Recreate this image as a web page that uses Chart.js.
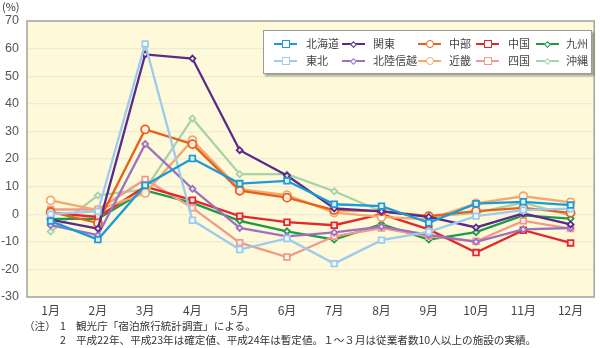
<!DOCTYPE html>
<html><head><meta charset="utf-8">
<script src="https://cdn.jsdelivr.net/npm/chart.js@4/dist/chart.umd.min.js"></script>
<style>
html,body{margin:0;padding:0;background:#fff;}
#wrap{position:relative;width:600px;height:348px;font-family:"Noto Sans CJK JP","Liberation Sans",sans-serif;color:#333;}
canvas{position:absolute;left:0;top:0;}
.t{position:absolute;white-space:nowrap;font-size:10.6px;line-height:12px;color:#333;}
#legend{position:absolute;left:263px;top:30px;width:327px;height:42px;background:#fff;border:1px solid #9a9a9a;box-shadow:2px 2px 2px rgba(0,0,0,0.35);}
.li{position:absolute;height:12px;}
.ls{position:absolute;width:23px;height:2.5px;}
.lm{position:absolute;box-sizing:border-box;background:#fff;}
.lt{position:absolute;font-size:11px;line-height:12px;color:#444;white-space:nowrap;}
</style></head>
<body>
<div id="wrap">
<canvas id="c" width="600" height="348"></canvas>
<div class="t" style="left:2px;top:0px;font-size:11px;">(%)</div>
<div id="legend"></div>
<div class="t" style="left:24px;top:320px;">（注）</div>
<div class="t" style="left:60px;top:320px;">1</div>
<div class="t" style="left:76px;top:320px;">観光庁「宿泊旅行統計調査」による。</div>
<div class="t" style="left:60px;top:334px;">2</div>
<div class="t" style="left:76px;top:334px;">平成22年、平成23年は確定値、平成24年は暫定値。１～３月は従業者数10人以上の施設の実績。</div>
</div>
<script>
const months = ['1月','2月','3月','4月','5月','6月','7月','8月','9月','10月','11月','12月'];
const yTicks = [-30,-20,-10,0,10,20,30,40,50,60,70];
const regionNames = ['北海道','東北','関東','北陸信越','中部','近畿','中国','四国','九州','沖縄'];
const hokkaido = [-2.5, -9.2, 10.5, 20.2, 11.1, 12.1, 3.6, 2.9, -3.1, 3.8, 4.5, 3.3];
const tohoku   = [0.0, 1.0, 61.7, -2.2, -12.8, -8.8, -17.9, -9.4, -6.4, -0.7, 1.5, 2.0];
const kanto    = [-2.0, -5.2, 57.9, 56.4, 23.2, 14.0, 2.1, 1.0, -1.0, -4.8, 0.3, -3.7];
const hokuriku = [-4.0, -7.6, 25.4, 9.2, -5.0, -8.0, -6.6, -4.5, -7.5, -10.0, -5.5, -5.0];
const chubu    = [0.8, -3.2, 30.7, 25.4, 8.5, 6.0, 1.5, 1.1, -0.7, 1.1, 2.3, 0.5];
const kinki    = [5.0, 1.5, 7.7, 26.8, 9.1, 6.9, 0.6, -1.0, -1.9, 3.9, 6.5, 4.3];
const chugoku  = [0.5, -1.0, 10.0, 5.1, -0.7, -2.9, -4.0, 0.0, -5.5, -13.9, -5.8, -10.4];
const shikoku  = [1.7, 1.7, 12.6, 2.3, -10.3, -15.5, -8.0, -5.0, -8.0, -9.8, -2.4, -5.2];
const kyushu   = [-1.7, -1.7, 8.6, 4.1, -2.4, -6.2, -9.2, -3.6, -9.2, -6.5, -0.4, -1.6];
const okinawa  = [-6.3, 6.8, 9.0, 34.7, 14.5, 14.5, 8.3, 1.0, -1.0, 0.5, 4.2, -0.5];

const seriesData = [hokkaido, tohoku, kanto, hokuriku, chubu, kinki, chugoku, shikoku, kyushu, okinawa];
const colors = ['#1b9bd7','#9dcbee','#5a2a8c','#9c72be','#e8601c','#f4a96c','#e3282c','#f09a8c','#1c9a48','#a6d3a9'];
const styles = ['rect','rect','rectRot','rectRot','circle','circle','rect','rect','rectRot','rectRot'];
const radii  = [4,4,3,3,4,4,4,4,3,3];

const datasets = regionNames.map((n,i)=>({
  label:n, data:seriesData[i], borderColor:colors[i], backgroundColor:'#ffffff',
  borderWidth:2.3, pointStyle:styles[i], pointRadius:radii[i], pointBorderWidth:1.8,
  pointBorderColor:colors[i], pointBackgroundColor:'rgba(255,255,255,0.85)', tension:0, fill:false
}));

const bgPlugin = {
  id:'bg',
  beforeDraw(chart){
    const {ctx, chartArea:a} = chart;
    ctx.save(); ctx.fillStyle='#fdf9d9'; ctx.fillRect(a.left,a.top,a.right-a.left,a.bottom-a.top); ctx.restore();
  },
  afterDatasetsDraw(chart){
    const {ctx, chartArea:a} = chart;
    ctx.save(); ctx.strokeStyle='#a3a3a3'; ctx.lineWidth=1.5;
    ctx.strokeRect(a.left,a.top,a.right-a.left,a.bottom-a.top); ctx.restore();
  }
};

new Chart(document.getElementById('c'), {
  type:'line',
  data:{labels:months, datasets},
  plugins:[bgPlugin],
  options:{
    responsive:false, animation:false,
    layout:{padding:{top:21,right:2,left:0,bottom:0}},
    plugins:{legend:{display:false},tooltip:{enabled:false}},
    scales:{
      x:{offset:true, grid:{display:false, drawTicks:false}, border:{display:false},
         ticks:{color:'#444', font:{size:12, family:'"Noto Sans CJK JP", sans-serif'}, padding:6, maxRotation:0},
         afterFit(s){s.height=51;}},
      y:{min:-30,max:70, afterBuildTicks(s){s.ticks=yTicks.map(v=>({value:v}));},
         grid:{color:'#efecd6', lineWidth:1.2, drawTicks:false}, border:{display:false},
         ticks:{color:'#555', font:{size:12.5, family:'"Liberation Sans", sans-serif'}, padding:8},
         afterFit(s){s.width=27;}}
    }
  }
});

// HTML legend
const leg = document.getElementById('legend');
const colX = [[10,42],[78,109],[154,185],[212,244],[272,302]];
const rowY = [13,30];
regionNames.forEach((n,i)=>{
  const c = Math.floor(i/2), r = i%2;
  const [sx,tx] = colX[c], y = rowY[r];
  const line = document.createElement('div'); line.className='ls';
  line.style.left=sx+'px'; line.style.top=(y-1.25)+'px'; line.style.background=colors[i];
  leg.appendChild(line);
  const m = document.createElement('div'); m.className='lm';
  const sz = styles[i]==='rectRot'?5:8;
  m.style.width=sz+'px'; m.style.height=sz+'px';
  m.style.left=(sx+11.5-sz/2)+'px'; m.style.top=(y-sz/2)+'px';
  m.style.border=(styles[i]==='rectRot'?1.3:1.8)+'px solid '+colors[i];
  if(styles[i]==='circle') m.style.borderRadius='50%';
  if(styles[i]==='rectRot') m.style.transform='rotate(45deg)';
  leg.appendChild(m);
  const t = document.createElement('div'); t.className='lt'; t.textContent=n;
  t.style.left=tx+'px'; t.style.top=(y-7)+'px';
  leg.appendChild(t);
});
</script>
</body></html>
